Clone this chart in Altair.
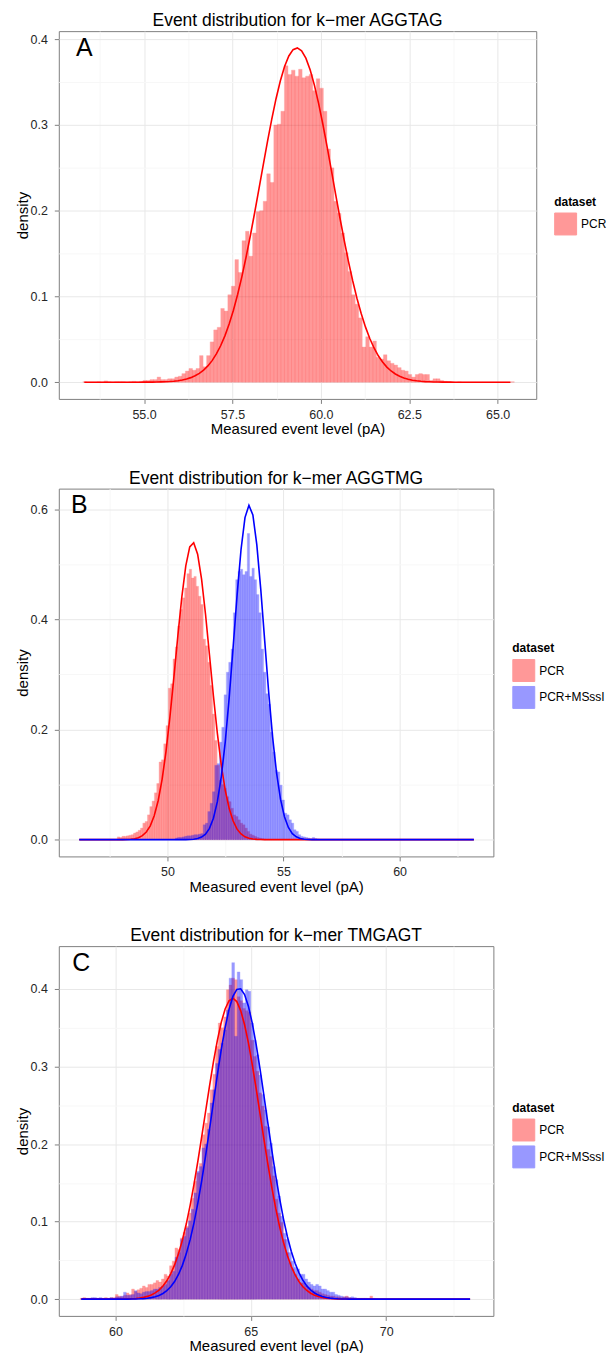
import math
import altair as alt
import pandas as pd

FONT = "Liberation Sans"
RED = "#FF0000"
BLUE = "#0000FF"
BIN_WIDTH = 0.1

# ---------------- Panel A ----------------
A_TITLE = "Event distribution for k\u2212mer AGGTAG"
A_LETTER = "A"
A_PCR_START = 53.27
A_PCR = [
    0.0005, 0, 0, 0, 0.0005, 0, 0.0015, 0.0005, 0, 0.0005,
    0.0005, 0.0005, 0, 0.0005, 0.001, 0.0005, 0.001, 0.002, 0.002, 0.003,
    0.003, 0.006, 0.003, 0.003, 0.004, 0.004, 0.006, 0.007, 0.010, 0.013,
    0.016, 0.014, 0.016, 0.031, 0.018, 0.031, 0.047, 0.061, 0.064, 0.086,
    0.083, 0.102, 0.112, 0.143, 0.128, 0.165, 0.176, 0.147, 0.174, 0.199,
    0.200, 0.211, 0.243, 0.233, 0.300, 0.301, 0.316, 0.369, 0.359, 0.364,
    0.357, 0.365, 0.355, 0.357, 0.359, 0.340, 0.354, 0.343, 0.316, 0.272,
    0.250, 0.211, 0.197, 0.174, 0.151, 0.129, 0.102, 0.091, 0.075, 0.041,
    0.053, 0.041, 0.048, 0.029, 0.027, 0.032, 0.025, 0.022, 0.020, 0.017,
    0.014, 0.013, 0.009, 0.006, 0.009, 0.010, 0.009, 0.009, 0.002, 0.004,
    0.004, 0.002, 0.001, 0.0005, 0, 0, 0.0005, 0, 0, 0,
    0, 0, 0, 0, 0, 0, 0, 0, 0, 0,
    0, 0.0005,
]
A_FIT = {"PCR": (59.32, 1.023)}          # mean, sd of fitted normal
A_FIT_RANGE = [53.31, 65.36]
A_XDOM = [52.59, 66.09]
A_YDOM = [-0.0195, 0.4095]
A_XTICKS = [55.0, 57.5, 60.0, 62.5, 65.0]
A_XMINOR = [53.75, 56.25, 58.75, 61.25, 63.75]
A_YTICKS = [0.0, 0.1, 0.2, 0.3, 0.4]
A_YMINOR = [0.05, 0.15, 0.25, 0.35]

# ---------------- Panel B ----------------
B_TITLE = "Event distribution for k\u2212mer AGGTMG"
B_LETTER = "B"
B_PCR_START = 47.84
B_PCR = [
    0.005, 0.004, 0.006, 0.006, 0.007, 0.008, 0.009, 0.012, 0.014, 0.017,
    0.021, 0.030, 0.033, 0.045, 0.060, 0.070, 0.085, 0.102, 0.141, 0.145,
    0.174, 0.207, 0.275, 0.283, 0.328, 0.350, 0.388, 0.418, 0.439, 0.457,
    0.483, 0.491, 0.475, 0.478, 0.460, 0.442, 0.427, 0.364, 0.352, 0.322,
    0.280, 0.228, 0.180, 0.135, 0.108, 0.100, 0.093, 0.078, 0.069, 0.057,
    0.045, 0.042, 0.036, 0.030, 0.027, 0.021, 0.015, 0.010, 0.008, 0.006,
    0.004, 0.003, 0.002, 0.001,
]
B_MSSSI_START = 50.34
B_MSSSI = [
    0.003, 0.004, 0.004, 0.005, 0.006, 0.007, 0.007, 0.008, 0.009, 0.009,
    0.010, 0.011, 0.027, 0.030, 0.051, 0.066, 0.087, 0.135, 0.138, 0.177,
    0.204, 0.263, 0.304, 0.322, 0.346, 0.412, 0.472, 0.487, 0.491, 0.481,
    0.487, 0.556, 0.478, 0.493, 0.472, 0.445, 0.412, 0.346, 0.304, 0.265,
    0.246, 0.195, 0.159, 0.126, 0.123, 0.099, 0.072, 0.048, 0.045, 0.036,
    0.030, 0.018, 0.015, 0.009, 0.006, 0.005, 0.004, 0.003, 0.002, 0.004,
    0.002, 0.001,
]
B_FIT = {"PCR": (51.09, 0.739), "PCR+MSssI": (53.52, 0.657)}
B_FIT_RANGE = [46.2, 63.2]
B_XDOM = [45.32, 64.04]
B_YDOM = [-0.0304, 0.6374]
B_XTICKS = [50, 55, 60]
B_XMINOR = [47.5, 52.5, 57.5, 62.5]
B_YTICKS = [0.0, 0.2, 0.4, 0.6]
B_YMINOR = [0.1, 0.3, 0.5]

# ---------------- Panel C ----------------
C_TITLE = "Event distribution for k\u2212mer TMGAGT"
C_LETTER = "C"
C_PCR_START = 58.7
C_PCR = [
    0.001, 0.002, 0.001, 0.001, 0.001, 0.001, 0.001, 0.001, 0.001, 0.002,
    0.001, 0.002, 0.002, 0.006, 0.004, 0.003, 0.005, 0.008, 0.006, 0.013,
    0.010, 0.012, 0.014, 0.017, 0.015, 0.019, 0.019, 0.021, 0.024, 0.022,
    0.026, 0.032, 0.030, 0.043, 0.049, 0.066, 0.064, 0.079, 0.086, 0.094,
    0.111, 0.130, 0.152, 0.163, 0.175, 0.212, 0.227, 0.240, 0.270, 0.290,
    0.326, 0.356, 0.350, 0.364, 0.399, 0.405, 0.414, 0.412, 0.390, 0.385,
    0.375, 0.372, 0.370, 0.334, 0.313, 0.294, 0.266, 0.249, 0.223, 0.193,
    0.184, 0.159, 0.129, 0.111, 0.099, 0.077, 0.060, 0.047, 0.039, 0.032,
    0.026, 0.021, 0.021, 0.017, 0.015, 0.013, 0.011, 0.011, 0.009, 0.007,
    0.006, 0.005, 0.004, 0.004, 0.003, 0.003, 0.002, 0.003, 0.004, 0.002,
    0.001, 0.001, 0.001, 0.001, 0.001, 0.001, 0.001, 0.004, 0.001, 0.0,
]
C_MSSSI_START = 58.7
C_MSSSI = [
    0.0, 0.001, 0.001, 0.001, 0.002, 0.002, 0.001, 0.002, 0.001, 0.001,
    0.001, 0.002, 0.001, 0.003, 0.003, 0.004, 0.009, 0.005, 0.005, 0.006,
    0.011, 0.008, 0.007, 0.009, 0.010, 0.010, 0.011, 0.013, 0.013, 0.015,
    0.017, 0.019, 0.024, 0.032, 0.036, 0.054, 0.060, 0.077, 0.081, 0.092,
    0.101, 0.116, 0.137, 0.165, 0.171, 0.195, 0.200, 0.219, 0.253, 0.270,
    0.304, 0.322, 0.330, 0.347, 0.373, 0.414, 0.434, 0.339, 0.422, 0.412,
    0.382, 0.399, 0.397, 0.356, 0.334, 0.315, 0.289, 0.264, 0.244, 0.222,
    0.201, 0.171, 0.154, 0.133, 0.107, 0.085, 0.077, 0.060, 0.049, 0.041,
    0.039, 0.032, 0.032, 0.026, 0.022, 0.019, 0.017, 0.019, 0.017, 0.013,
    0.013, 0.011, 0.009, 0.009, 0.006, 0.005, 0.004, 0.003, 0.003, 0.002,
    0.003, 0.002, 0.001, 0.001, 0.001, 0.001, 0.0, 0.001, 0.0, 0.0,
]
C_FIT = {"PCR": (64.33, 1.028), "PCR+MSssI": (64.57, 0.995)}
C_FIT_RANGE = [58.74, 73.1]
C_XDOM = [57.91, 73.96]
C_YDOM = [-0.0216, 0.4553]
C_XTICKS = [60, 65, 70]
C_XMINOR = [57.5, 62.5, 67.5, 72.5]
C_YTICKS = [0.0, 0.1, 0.2, 0.3, 0.4]
C_YMINOR = [0.05, 0.15, 0.25, 0.35]

DATASETS = ["PCR", "PCR+MSssI"]
COLORS = {"PCR": RED, "PCR+MSssI": BLUE}

TEXT_COLOR = "#262626"
BORDER = "#7F7F7F"


def hist_table(series):
    rows = []
    for name, start, vals in series:
        for i, v in enumerate(vals):
            s = start + i * BIN_WIDTH
            rows.append({"start": s, "end": s + BIN_WIDTH, "density": v, "dataset": name})
    return pd.DataFrame(rows)


def cond_axis(ticks, minor, fmt, title, orient):
    vals = sorted(list(ticks) + list(minor))
    minor_str = "[" + ",".join(repr(float(v)) for v in minor) + "]"
    test = f"indexof({minor_str}, datum.value) >= 0"
    common = dict(
        values=vals,
        title=title,
        grid=True,
        gridColor={"condition": {"test": test, "value": "#F7F7F7"}, "value": "#E8E8E8"},
        gridWidth=1,
        tickOpacity={"condition": {"test": test, "value": 0}, "value": 1},
        labelExpr=f"{test} ? '' : format(datum.value, '{fmt}')",
        domain=False,
        ticks=True,
        tickColor=BORDER,
        tickSize=4.5,
        tickWidth=1,
        labelFont=FONT,
        labelFontSize=12.5,
        labelColor=TEXT_COLOR,
        labelOverlap=False,
        labelFlush=False,
        titleFont=FONT,
        titleFontSize=15,
        titleFontWeight="normal",
        titleColor="black",
        titleBaseline="middle",
    )
    if orient == "bottom":
        common.update(labelBaseline="middle", labelPadding=11, titleY=30)
    else:
        common.update(labelPadding=7, titleX=-36.5)
    return alt.Axis(**common)


def panel(title, letter, series, fits, fit_range, xdom, ydom, xticks, xminor, xfmt,
          yticks, yminor, width, height, legend_x, legend_y):
    names = [s[0] for s in series]
    df = hist_table(series)
    xaxis = cond_axis(xticks, xminor, xfmt, "Measured event level (pA)", "bottom")
    yaxis = cond_axis(yticks, yminor, ".1f", "density", "left")
    xscale = alt.Scale(domain=xdom, nice=False, zero=False)
    yscale = alt.Scale(domain=ydom, nice=False, zero=False)
    cscale = alt.Scale(domain=names, range=[COLORS[n] for n in names])

    bars = alt.Chart(df).mark_rect(opacity=0.4, strokeWidth=0.35).encode(
        x=alt.X("start:Q", scale=xscale, axis=xaxis),
        x2="end:Q",
        y=alt.Y("density:Q", scale=yscale, axis=yaxis),
        y2=alt.datum(0),
        stroke=alt.Stroke("dataset:N", scale=cscale, legend=None),
        fill=alt.Fill(
            "dataset:N",
            scale=cscale,
            legend=alt.Legend(
                title="dataset",
                orient="none",
                legendX=legend_x,
                legendY=legend_y,
                titleFont=FONT,
                titleFontSize=12,
                titleFontWeight="bold",
                titleColor="black",
                titlePadding=4,
                labelFont=FONT,
                labelFontSize=12,
                labelColor="black",
                labelOffset=4,
                symbolType="square",
                symbolSize=484,
                symbolOpacity=0.4,
                symbolStrokeColor="#7F7F7F",
                symbolStrokeWidth=1,
                rowPadding=0,
            ),
        ),
    )

    layers = [bars]
    step = (fit_range[1] - fit_range[0]) / 100.0
    peaks = [max(v for _, _, vals in series for v in vals)]
    for name in names:
        mean, sd = fits[name]
        peaks.append(1.0 / (sd * math.sqrt(2 * math.pi)))
        line = alt.Chart(
            alt.sequence(fit_range[0], fit_range[1] + step / 2, step, as_="x")
        ).transform_calculate(
            density=f"densityNormal(datum.x, {mean}, {sd})"
        ).mark_line(color=COLORS[name], strokeWidth=1.6).encode(
            x=alt.X("x:Q", scale=xscale, axis=xaxis),
            y=alt.Y("density:Q", scale=yscale, axis=yaxis),
        )
        layers.append(line)

    lab = alt.Chart(pd.DataFrame({"x": [fit_range[0]], "y": [max(peaks)], "t": [letter]})).mark_text(
        font=FONT, fontSize=25, color="black", align="center", baseline="middle"
    ).encode(
        x=alt.X("x:Q", scale=xscale, axis=xaxis),
        y=alt.Y("y:Q", scale=yscale, axis=yaxis),
        text="t:N",
    )
    layers.append(lab)

    return alt.layer(*layers).properties(
        width=width,
        height=height,
        title=alt.TitleParams(
            text=title, font=FONT, fontSize=17.5, fontWeight="normal",
            color="black", anchor="middle", baseline="top", offset=1.5,
        ),
    )


pa = panel(A_TITLE, A_LETTER, [("PCR", A_PCR_START, A_PCR)], A_FIT, A_FIT_RANGE,
           A_XDOM, A_YDOM, A_XTICKS, A_XMINOR, ".1f", A_YTICKS, A_YMINOR,
           479, 369, 497, 166)
pb = panel(B_TITLE, B_LETTER, [("PCR", B_PCR_START, B_PCR), ("PCR+MSssI", B_MSSSI_START, B_MSSSI)],
           B_FIT, B_FIT_RANGE, B_XDOM, B_YDOM, B_XTICKS, B_XMINOR, "d", B_YTICKS, B_YMINOR,
           436, 369, 455, 155)
pc = panel(C_TITLE, C_LETTER, [("PCR", C_PCR_START, C_PCR), ("PCR+MSssI", C_MSSSI_START, C_MSSSI)],
           C_FIT, C_FIT_RANGE, C_XDOM, C_YDOM, C_XTICKS, C_XMINOR, "d", C_YTICKS, C_YMINOR,
           436, 371, 455, 157)

chart = alt.vconcat(pa, pb, pc, spacing=31).resolve_scale(fill="independent", stroke="independent").configure(
    padding={"left": 15, "top": 9, "right": 0, "bottom": 0},
    background="white",
).configure_view(stroke=BORDER, strokeWidth=1)

chart.save("out.html", embed_options={"renderer": "svg", "actions": False})
